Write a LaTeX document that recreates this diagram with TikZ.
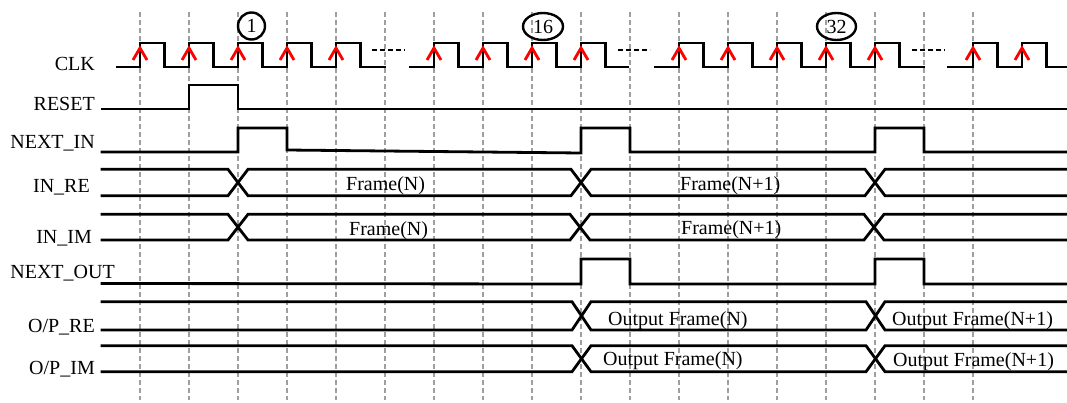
\documentclass[tikz,border=0pt]{standalone}
\usepackage{fontspec}
\setmainfont{Liberation Serif}
\usetikzlibrary{shapes.geometric}
\begin{document}
\begin{tikzpicture}[x=1pt,y=-1pt,
  sig/.style={line width=2.8pt, line join=miter, line cap=rect},
  gridline/.style={line width=2.2pt, draw=gray!75, dash pattern=on 5pt off 3pt},
  clkmark/.style={line width=2.8pt, draw=red},
  gapdots/.style={line width=2.8pt, dash pattern=on 5pt off 3pt},
  lbl/.style={anchor=base east, inner sep=0pt, font=\fontsize{20}{22}\selectfont},
  txt/.style={anchor=base west, inner sep=0pt, font=\fontsize{20}{22}\selectfont},
  num/.style={draw, line width=2.4pt, ellipse, inner sep=0pt, font=\fontsize{20}{22}\selectfont}]
\useasboundingbox (0,0) rectangle (1067,402);
\fill[white] (0,0) rectangle (1067,402);

% grid lines
\foreach \x in {140,189,238,287,336,385,434,483,532,581,630,679,728,777,826,875,924,973}
  \draw[gridline] (\x,12) -- (\x,400);

% labels
\node[lbl] (lclk) at (95,70) {CLK};
\node[lbl] (lreset) at (95,110) {RESET};
\node[lbl] (lnin) at (95,148) {NEXT\_IN};
\node[lbl] (lire) at (90,192) {IN\_RE};
\node[lbl] (liim) at (92,243) {IN\_IM};
\node[lbl] (lnout) at (115,278) {NEXT\_OUT};
\node[lbl] (lore) at (95,332) {O/P\_RE};
\node[lbl] (loim) at (95,374) {O/P\_IM};

% clock
\draw[sig] (117,67) foreach \x in {140,189,238,287,336} { -- (\x,67) -- (\x,43) -- ({\x+24.5},43) -- ({\x+24.5},67) } -- (385,67);
\draw[sig] (410,67) foreach \x in {434,483,532,581} { -- (\x,67) -- (\x,43) -- ({\x+24.5},43) -- ({\x+24.5},67) } -- (628,67);
\draw[sig] (655,67) foreach \x in {679,728,777,826,875} { -- (\x,67) -- (\x,43) -- ({\x+24.5},43) -- ({\x+24.5},67) } -- (924,67);
\draw[sig] (948,67) foreach \x in {973,1022} { -- (\x,67) -- (\x,43) -- ({\x+24.5},43) -- ({\x+24.5},67) } -- (1067,67);
\draw[gapdots] (372,50) -- (405,50);
\draw[gapdots] (618,50) -- (650,50);
\draw[gapdots] (912,50) -- (945,50);
\foreach \x in {140,189,238,287,336,434,483,532,581,679,728,777,826,875,973,1022}
  \draw[clkmark] ({\x-7},60) -- (\x,48) -- ({\x+7},60);

% cycle numbers
\node[num, minimum width=27pt, minimum height=27pt] (c1) at (251.5,26) {1};
\node[num, minimum width=40pt, minimum height=27pt] (c16) at (543,26.5) {16};
\node[num, minimum width=39pt, minimum height=27pt] (c32) at (836.5,26.5) {32};

% RESET
\draw[sig] (102,109) -- (189,109) -- (189,85) -- (238,85) -- (238,109) -- (1067,109);
% NEXT_IN
\draw[sig] (102,152) -- (238,152) -- (238,128) -- (287,128) -- (287,150) -- (581,153) -- (581,128) -- (630,128) -- (630,152) -- (875,152) -- (875,128) -- (924,128) -- (924,152) -- (1067,152);

% IN_RE
\draw[sig] (102,169.3) -- (228,169.3) -- (248,195.7) -- (571,195.7) -- (591,169.3) -- (865,169.3) -- (885,195.7) -- (1067,195.7);
\draw[sig] (102,195.7) -- (228,195.7) -- (248,169.3) -- (571,169.3) -- (591,195.7) -- (865,195.7) -- (885,169.3) -- (1067,169.3);
\node[txt] (fre1) at (346,190) {Frame(N)};
\node[txt] (fre2) at (680,190) {Frame(N+1)};

% IN_IM
\draw[sig] (102,214.3) -- (228,214.3) -- (248,240) -- (570,240) -- (590,214.3) -- (864,214.3) -- (884,240) -- (1067,240);
\draw[sig] (102,240) -- (228,240) -- (248,214.3) -- (570,214.3) -- (590,240) -- (864,240) -- (884,214.3) -- (1067,214.3);
\node[txt] (fim1) at (349,235) {Frame(N)};
\node[txt] (fim2) at (681,234) {Frame(N+1)};

% NEXT_OUT
\draw[sig] (102,283.5) -- (581,284) -- (581,259) -- (630,259) -- (630,284) -- (875,284) -- (875,259) -- (924,259) -- (924,284) -- (1067,284);

% O/P_RE
\draw[sig] (102,301.7) -- (572,301.7) -- (591,330) -- (866,330) -- (885,301.7) -- (1067,301.7);
\draw[sig] (102,330) -- (572,330) -- (591,301.7) -- (866,301.7) -- (885,330) -- (1067,330);
\node[txt] (ore1) at (608,325) {Output Frame(N)};
\node[txt] (ore2) at (892,325) {Output Frame(N+1)};

% O/P_IM
\draw[sig] (102,345.7) -- (572,345.7) -- (591,371.7) -- (866,371.7) -- (885,345.7) -- (1067,345.7);
\draw[sig] (102,371.7) -- (572,371.7) -- (591,345.7) -- (866,345.7) -- (885,371.7) -- (1067,371.7);
\node[txt] (oim1) at (603,365) {Output Frame(N)};
\node[txt] (oim2) at (893,366) {Output Frame(N+1)};
\end{tikzpicture}
\end{document}
